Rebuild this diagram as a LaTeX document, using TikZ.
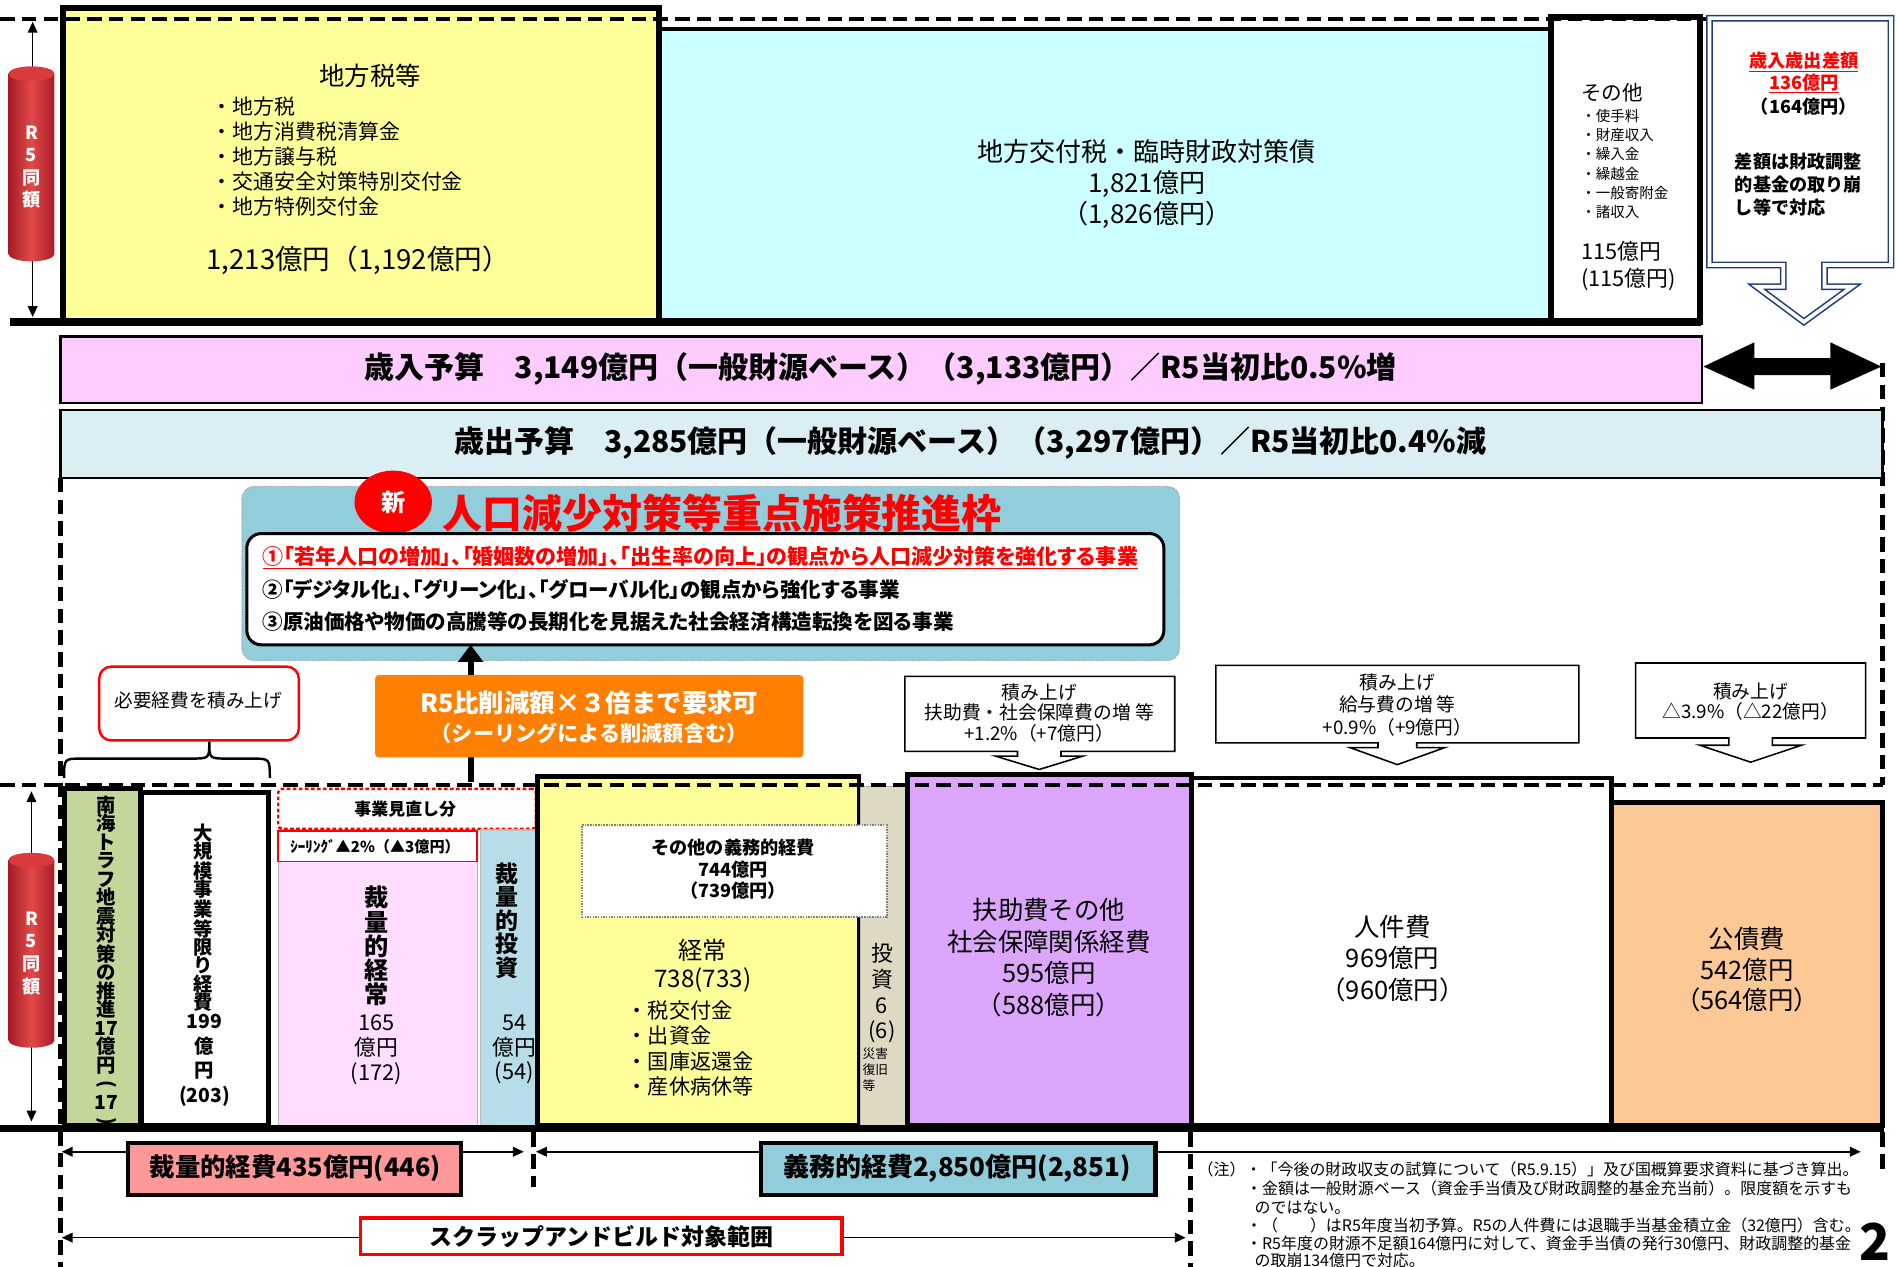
\documentclass[tikz,border=0pt]{standalone}
\usepackage{fontspec}
\setmainfont{Noto Sans CJK JP}
\newfontfamily\pfont{Noto Sans CJK JP}[RawFeature=+palt]
\usetikzlibrary{arrows.meta,shapes.geometric}
\definecolor{cyel}{HTML}{FFFF99}
\definecolor{ccyan}{HTML}{CCFFFF}
\definecolor{cpinkb}{HTML}{FFCCFF}
\definecolor{cband}{HTML}{DAEEF3}
\definecolor{cteal}{HTML}{92CDDC}
\definecolor{corange}{HTML}{FF8000}
\definecolor{cgreen}{HTML}{C4D79B}
\definecolor{cpink}{HTML}{FFDDFF}
\definecolor{cblue}{HTML}{B7DEE8}
\definecolor{cgray}{HTML}{DDD9C3}
\definecolor{cpurple}{HTML}{DDA6FD}
\definecolor{cpeach}{HTML}{FCC896}
\definecolor{csalmon}{HTML}{FF9999}
\definecolor{cnavy}{HTML}{1F3C78}
\definecolor{cylD}{HTML}{A51C24}
\definecolor{cylL}{HTML}{E24A4A}
\definecolor{cylT}{HTML}{D93A3A}
\newcommand\Fs[1]{\fontsize{#1}{#1}\selectfont}
\newcommand\Fsl[2]{\fontsize{#1}{#2}\selectfont}
\newcommand\BX[6]{\node[#6, anchor=north west, inner sep=0pt, outer sep=0pt, minimum width={(#4-#2)*1pt}, minimum height={(#5-#3)*1pt}] (#1) at (#2,#3) {};}
\newcommand\Cyl[3]{%
 \shade[left color=cylD, right color=cylD, middle color=cylL] (#1-19,#3) arc[start angle=180,end angle=360,x radius=19pt,y radius=6pt] -- (#1+19,#2) arc[start angle=0,end angle=180,x radius=19pt,y radius=6pt] -- cycle;
 \fill[cylT] (#1,#2) ellipse[x radius=19pt, y radius=6pt];}
\newcommand\vp[1]{\rotatebox[origin=c]{-90}{#1}}
\tikzset{
  bb/.style={draw=black, line width=4pt},
  dashline/.style={line width=3.5pt, dash pattern=on 12pt off 6pt},
  onearrow/.style={-{Triangle[length=9pt,width=8pt]}},
  twoarrow/.style={{Triangle[length=9pt,width=8pt]}-{Triangle[length=9pt,width=8pt]}},
  callout/.style={draw=black, line width=1.3pt, fill=white},
  txt/.style={inner sep=0pt, outer sep=0pt, align=center},
  ltxt/.style={inner sep=0pt, outer sep=0pt, align=left, anchor=west},
}
\begin{document}
\begin{tikzpicture}[x=1pt,y=-1pt]
\useasboundingbox (0,0) rectangle (1568,1047);
\fill[white] (0,0) rectangle (1568,1047);

% ---------- top section ----------
\coordinate (ta1) at (27,18); \coordinate (ta2) at (27,262);
\draw[twoarrow, line width=1.3pt] (ta1) -- (ta2);
\Cyl{26}{61}{210}
\node[txt, font=\Fsl{15}{18.5}\bfseries, text=white] (cyl1t) at (26,138) {R\\5\\同\\額};

\BX{cyanb}{545}{24}{1283}{266}{draw=black, line width=3pt, fill=ccyan}
\BX{ytax}{52}{7}{545}{267}{bb, line width=5pt, fill=cyel}
\BX{othb}{1282}{14}{1405}{266}{bb, line width=5pt, fill=white}
\draw[line width=7pt] (8,266) -- (1406,266);
\draw[dashline] (0,16) -- (1412,16);

\node[txt, font=\Fs{21}] (taxh) at (306,63) {地方税等};
\node[ltxt, font=\Fsl{17.3}{20.75}] (taxl) at (175,129.5) {・地方税\\・地方消費税清算金\\・地方譲与税\\・交通安全対策特別交付金\\・地方特例交付金};
\node[txt, font=\Fs{22.8}] (taxv) at (296,215) {1,213億円（1,192億円）};

\node[txt, font=\Fsl{21.5}{25.5}] (cyant) at (948,152) {地方交付税・臨時財政対策債\\1,821億円\\（1,826億円）};

\node[ltxt, font=\Fs{17}] (othh) at (1307,77) {その他};
\node[ltxt, font=\Fsl{12}{15.8}] (othl) at (1307,135.5) {・使手料\\・財産収入\\・繰入金\\・繰越金\\・一般寄附金\\・諸収入};
\node[ltxt, font=\Fsl{18}{22}] (othv) at (1307,220) {115億円\\(115億円)};

\draw[draw=cnavy, line width=1.3pt, double=white, double distance=3pt, fill=white] (1413,15) -- (1563,15) -- (1563,219) -- (1508,219) -- (1508,237) -- (1531,237) -- (1491,266) -- (1452,237) -- (1474,237) -- (1474,219) -- (1413,219) -- cycle;
\node[txt, font=\Fsl{15}{18}\bfseries, text=red] (difh) at (1491,60) {\underline{歳入歳出差額}\\\underline{136億円}};
\node[txt, font=\Fs{15}\bfseries] (difp) at (1491,88) {（164億円）};
\node[ltxt, font=\Fsl{15}{18.7}\bfseries] (difn) at (1434,152.5) {差額は財政調整\\的基金の取り崩\\し等で対応};

% ---------- bands ----------
\BX{revb}{50}{278}{1407}{333}{draw=black, line width=2pt, fill=cpinkb}
\node[txt, font=\Fs{24.8}\bfseries] (revt) at (728,305) {歳入予算　3,149億円（一般財源ベース）（3,133億円）／R5当初比0.5\%増};
\fill (1408,303) -- (1450,283) -- (1450,296) -- (1513,296) -- (1513,283) -- (1555,303) -- (1513,322) -- (1513,310) -- (1450,310) -- (1450,322) -- cycle;
\draw[dashline] (1556,300) -- (1556,649);
\BX{expb}{50}{339}{1556}{395}{draw=black, line width=2pt, fill=cband}
\node[txt, font=\Fs{24.8}\bfseries] (expt) at (802,366) {歳出予算　3,285億円（一般財源ベース）（3,297億円）／R5当初比0.4\%減};
\draw[dashline] (50,395) -- (50,1047);

% ---------- priority panel ----------
\BX{panel}{200}{402}{975}{546}{draw=gray!70, densely dotted, line width=1pt, fill=cteal, rounded corners=10pt}
\node[ellipse, fill=red, minimum width=64pt, minimum height=52pt, inner sep=0pt, font=\Fs{20}\bfseries, text=white] (newc) at (325,415) {新};
\node[ltxt, font=\Fs{33}\bfseries, text=red] (ptitle) at (366,424) {人口減少対策等重点施策推進枠};
\BX{inner}{204}{441}{962}{533}{draw=black, line width=2.5pt, fill=white, rounded corners=12pt}
\node[ltxt, font=\pfont\Fs{17.4}\bfseries, text=red] (p1) at (217,461) {\underline{①「若年人口の増加」、「婚姻数の増加」、「出生率の向上」の観点から人口減少対策を強化する事業}};
\node[ltxt, font=\pfont\Fs{17}\bfseries] (p2) at (217,487) {②「デジタル化」、「グリーン化」、「グローバル化」の観点から強化する事業};
\node[ltxt, font=\pfont\Fs{17}\bfseries] (p3) at (217,514) {③原油価格や物価の高騰等の長期化を見据えた社会経済構造転換を図る事業};

\coordinate (arb) at (389,646);
\draw[line width=5pt, -{Triangle[length=14pt,width=20pt]}] (arb) -- (arb |- inner.south);
\BX{ora}{310}{558}{664}{626}{fill=corange, rounded corners=3pt}
\node[txt, font=\Fs{21}\bfseries, text=white] (orat1) at (487,581) {R5比削減額×３倍まで要求可};
\node[txt, font=\Fs{17.5}\bfseries, text=white] (orat2) at (487,606) {（シーリングによる削減額含む）};

\BX{need}{82}{551}{247}{612}{draw=red, line width=2pt, fill=white, rounded corners=10pt}
\node[txt, font=\Fs{15.4}] (needt) at (164,579) {必要経費を積み上げ};
\draw[line width=2pt] (53,643) .. controls (53,627) .. (68,627) -- (158,627) .. controls (173,627) .. (173,613) .. controls (173,627) .. (188,627) -- (208,627) .. controls (223,627) .. (223,643);

% callouts
\draw[callout] (748,559) -- (971,559) -- (971,621) -- (877,621) -- (877,625) -- (895,625) -- (859,636) -- (823,625) -- (841,625) -- (841,621) -- (748,621) -- cycle;
\node[txt, font=\Fsl{15.5}{17}] (c1t) at (859,589) {積み上げ\\扶助費・社会保障費の増 等\\+1.2\%（+7億円）};
\draw[callout] (1005,550) -- (1305,550) -- (1305,614) -- (1171,614) -- (1171,618) -- (1194,618) -- (1155,632) -- (1116,618) -- (1139,618) -- (1139,614) -- (1005,614) -- cycle;
\node[txt, font=\Fsl{15.5}{18.5}] (c2t) at (1155,582.5) {積み上げ\\給与費の増 等\\+0.9\%（+9億円）};
\draw[callout] (1352,548) -- (1542,548) -- (1542,610) -- (1465,610) -- (1465,616) -- (1489,616) -- (1447,630) -- (1405,616) -- (1429,616) -- (1429,610) -- (1352,610) -- cycle;
\node[txt, font=\Fsl{15.5}{17}] (c3t) at (1447,580) {積み上げ\\△3.9\%（△22億円）};

% ---------- bottom section ----------
\coordinate (ba1) at (26,654); \coordinate (ba2) at (26,927);
\draw[twoarrow, line width=1.3pt] (ba1) -- (ba2);
\Cyl{26}{711}{860}
\node[txt, font=\Fsl{15}{18.7}\bfseries, text=white] (cyl2t) at (26,788) {R\\5\\同\\額};

\BX{gr}{53}{652}{116}{930}{bb, fill=cgreen}
\BX{lg}{117}{655}{222}{930}{bb, fill=white}
\BX{pk}{230}{686}{395}{930}{draw=gray!60, line width=1pt, fill=cpink}
\BX{rv}{230}{652}{443}{685}{draw=red, densely dashed, line width=2pt, fill=white, rounded corners=3pt}
\BX{ceil}{230}{687}{394}{712}{draw=red, line width=1.5pt, fill=white}
\BX{bl}{397}{686}{443}{930}{draw=gray!50, line width=1pt, fill=cblue}
\BX{yl}{444}{642}{710}{930}{bb, fill=cyel}
\BX{gy}{711}{650}{749}{930}{draw=gray!60, line width=1pt, fill=cgray}
\BX{oth2}{481}{682}{733}{758}{draw=gray, densely dotted, line width=1.2pt, fill=white}
\BX{pu}{750}{640}{985}{930}{bb, fill=cpurple}
\BX{jk}{985}{643}{1332}{930}{bb, fill=white}
\BX{kc}{1332}{663}{1556}{930}{bb, fill=cpeach}
\draw[line width=6pt] (0,933) -- (1557,933);
\draw[dashline] (0,649) -- (1556,649);

\node[txt, font=\Fsl{16}{15.3}\bfseries] (grt) at (88,795) {南\\海\\ト\\ラ\\フ\\地\\震\\対\\策\\の\\推\\進\\17\\億\\円\\\vp{(}\\17\\\vp{)}};
\node[txt, font=\Fsl{16}{15.2}\bfseries] (lgt) at (168,758.5) {大\\規\\模\\事\\業\\等\\限\\り\\経\\費};
\node[txt, font=\Fsl{16}{20.3}\bfseries] (lgv) at (169,876.5) {199\\億\\円\\(203)};
\node[txt, font=\Fs{14}\bfseries] (rvt) at (335,669) {事業見直し分};
\node[txt, font=\Fs{12.5}\bfseries] (ceilt) at (310,699.5) {ｼｰﾘﾝｸﾞ▲2\%（▲3億円）};
\node[txt, font=\Fsl{20}{20}\bfseries] (pkt) at (311,782) {裁\\量\\的\\経\\常};
\node[txt, font=\Fsl{18}{20.5}] (pkv) at (311,867.5) {165\\億円\\(172)};
\node[txt, font=\Fsl{19}{19.5}\bfseries] (blt) at (419,761) {裁\\量\\的\\投\\資};
\node[txt, font=\Fsl{18}{20.5}] (blv) at (425,867.5) {54\\億円\\(54)};
\node[txt, font=\Fsl{15}{17.5}\bfseries] (oth2t) at (606,718.5) {その他の義務的経費\\744億円\\（739億円）};
\node[txt, font=\Fsl{20}{23}] (ylt) at (581,798.5) {経常\\738(733)};
\node[ltxt, font=\Fsl{17.5}{21}] (yll) at (518,866.5) {・税交付金\\・出資金\\・国庫返還金\\・産休病休等};
\node[txt, font=\Fsl{18}{21.3}] (gyt) at (729,821) {投\\資\\6\\(6)};
\node[ltxt, font=\Fsl{10.5}{13}] (gys) at (713,884) {災害\\復旧\\等};
\node[txt, font=\Fsl{21}{26.3}] (put) at (867,791.5) {扶助費その他\\社会保障関係経費\\595億円\\（588億円）};
\node[txt, font=\Fsl{21}{26}] (jkt) at (1151,792) {人件費\\969億円\\（960億円）};
\node[txt, font=\Fsl{21}{25.5}] (kct) at (1444,801.5) {公債費\\542億円\\（564億円）};

% ---------- bottom annotations ----------
\coordinate (d1) at (51,952); \coordinate (d2) at (433,952);
\coordinate (d3) at (443,952); \coordinate (d4) at (1538,952);
\draw[twoarrow, line width=1.3pt] (d1) -- (d2);
\draw[twoarrow, line width=1.3pt] (d3) -- (d4);
\draw[dashline] (441,936) -- (441,981);
\draw[dashline] (984,936) -- (984,1047);
\draw[dashline] (1556,936) -- (1556,966);
\BX{sai}{106}{945}{381}{988}{draw=black, line width=3.5pt, fill=csalmon}
\node[txt, font=\Fs{21}\bfseries] (sait) at (244,966) {裁量的経費435億円(446)};
\BX{gim}{629}{945}{955}{988}{draw=black, line width=3.5pt, fill=cteal}
\node[txt, font=\Fs{21.5}\bfseries] (gimt) at (791,966) {義務的経費2,850億円(2,851)};
\coordinate (s1) at (51,1023); \coordinate (s2) at (980,1023);
\draw[twoarrow, line width=1.3pt] (s1) -- (s2);
\BX{scr}{298}{1007}{696}{1037}{draw=red, line width=3pt, fill=white}
\node[txt, font=\Fs{19}\bfseries] (scrt) at (497,1022) {スクラップアンドビルド対象範囲};

\node[ltxt, font=\Fs{13.2}] (n1) at (990,967) {（注）・「今後の財政収支の試算について（R5.9.15）」及び国概算要求資料に基づき算出。};
\node[ltxt, font=\Fs{13.2}] (n2) at (1030,982) {・金額は一般財源ベース（資金手当債及び財政調整的基金充当前）。限度額を示すも};
\node[ltxt, font=\Fs{13.2}] (n3) at (1037,998) {のではない。};
\node[ltxt, font=\Fs{13.2}] (n4) at (1030,1013) {・（　　）はR5年度当初予算。R5の人件費には退職手当基金積立金（32億円）含む。};
\node[ltxt, font=\Fs{13.2}] (n5) at (1030,1028) {・R5年度の財源不足額164億円に対して、資金手当債の発行30億円、財政調整的基金};
\node[ltxt, font=\Fs{13.2}] (n6) at (1037,1042) {の取崩134億円で対応。};
\node[txt, font=\Fs{42}\bfseries] (pg) at (1550,1026) {2};
\end{tikzpicture}
\end{document}
